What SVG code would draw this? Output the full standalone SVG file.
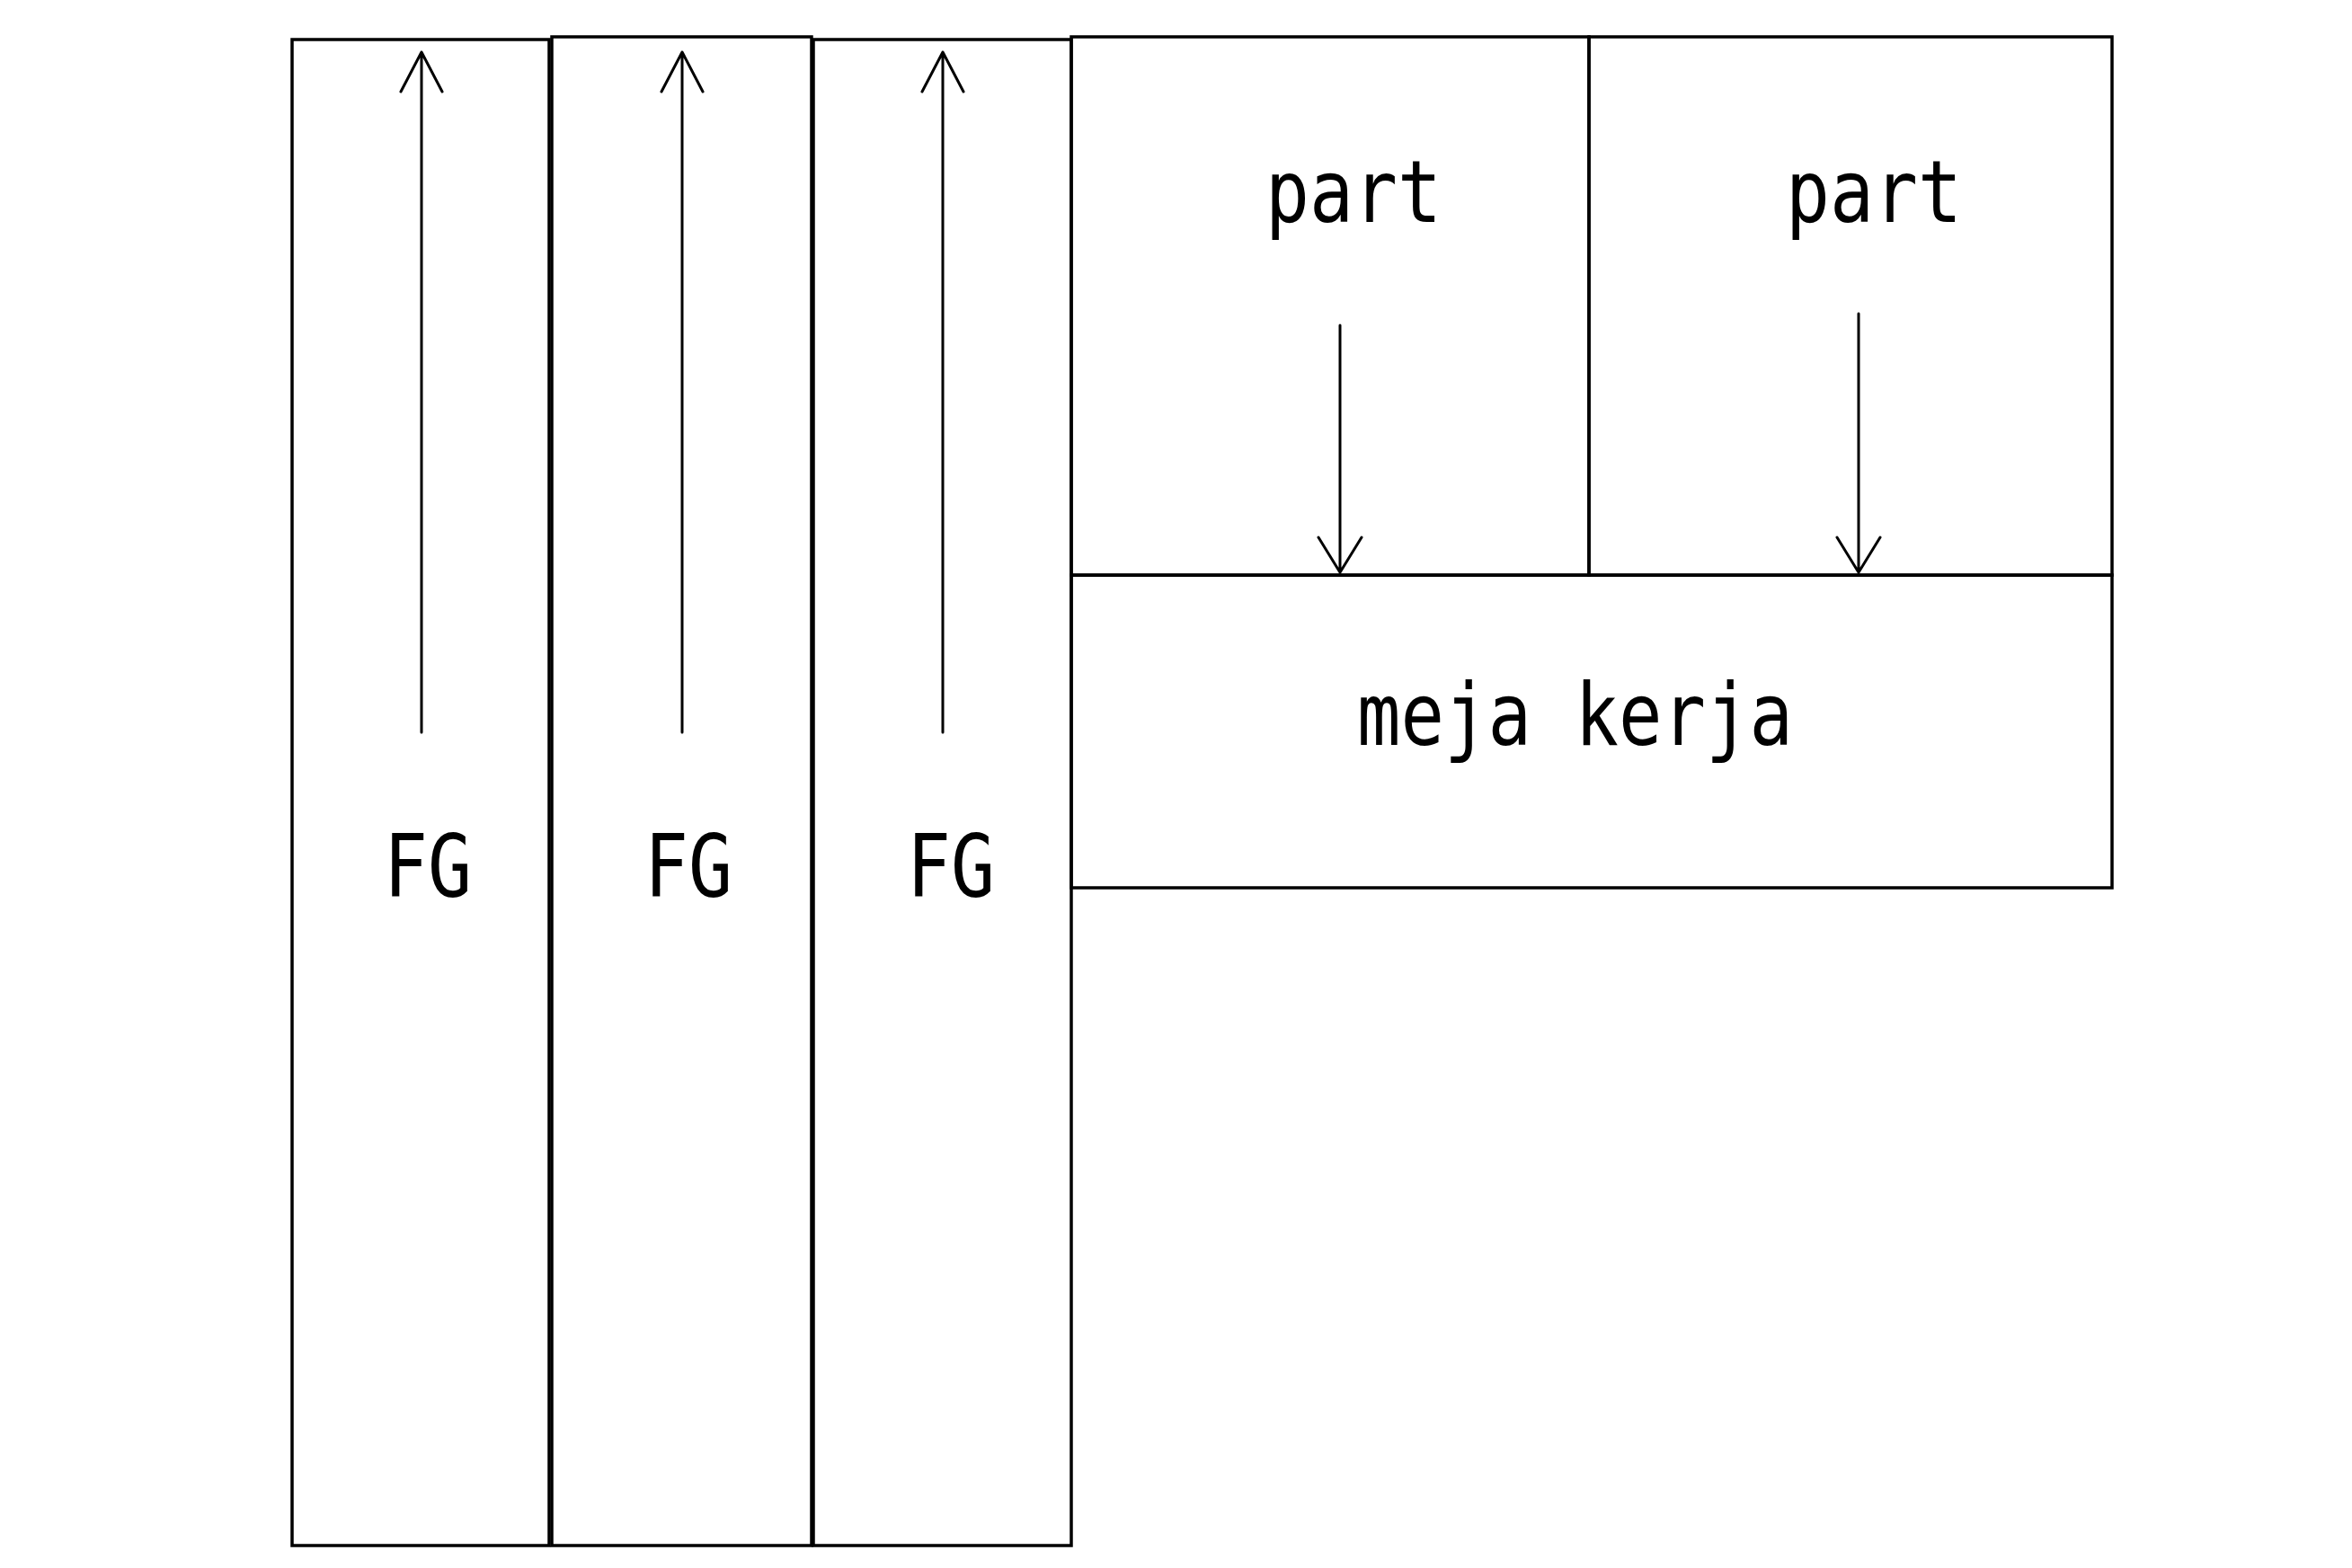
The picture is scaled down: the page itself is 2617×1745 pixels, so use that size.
<svg xmlns="http://www.w3.org/2000/svg" width="2617" height="1745" viewBox="0 0 2617 1745">
<style>
.box{fill:none;stroke:#000;stroke-width:3.5}
.lbl{font-family:"DejaVu Sans Mono","Liberation Mono",monospace;font-size:97px;fill:#000}
.arr{fill:none;stroke:#000;stroke-width:3;stroke-linecap:round;stroke-linejoin:round}
</style>
<rect width="2617" height="1745" fill="#fff"/>
<g id="fg1"><rect class="box" x="325" y="44" width="286" height="1676"/><text class="lbl" x="427" y="998" textLength="98" lengthAdjust="spacingAndGlyphs">FG</text></g>
<g id="fg2"><rect class="box" x="614" y="41" width="289" height="1679"/><text class="lbl" x="717" y="998" textLength="98" lengthAdjust="spacingAndGlyphs">FG</text></g>
<g id="fg3"><rect class="box" x="905" y="44" width="287" height="1676"/><text class="lbl" x="1009" y="998" textLength="98" lengthAdjust="spacingAndGlyphs">FG</text></g>
<g id="part1"><rect class="box" x="1192" y="41" width="576" height="599"/><text class="lbl" x="1408" y="247" textLength="196" lengthAdjust="spacingAndGlyphs">part</text></g>
<g id="part2"><rect class="box" x="1768" y="41" width="582" height="599"/><text class="lbl" x="1987" y="247" textLength="196" lengthAdjust="spacingAndGlyphs">part</text></g>
<g id="meja"><rect class="box" x="1192" y="640" width="1158" height="348"/><text class="lbl" x="1510" y="829" textLength="485" lengthAdjust="spacingAndGlyphs">meja kerja</text></g>
<g id="connectors">
<path class="arr" d="M469 815V58M446 102L469 58L492 102"/>
<path class="arr" d="M759 815V58M736 102L759 58L782 102"/>
<path class="arr" d="M1049 815V58M1026 102L1049 58L1072 102"/>
<path class="arr" d="M1491 362V637M1467 598L1491 637L1515 598"/>
<path class="arr" d="M2068 349V637M2044 598L2068 637L2092 598"/>
</g>
</svg>
